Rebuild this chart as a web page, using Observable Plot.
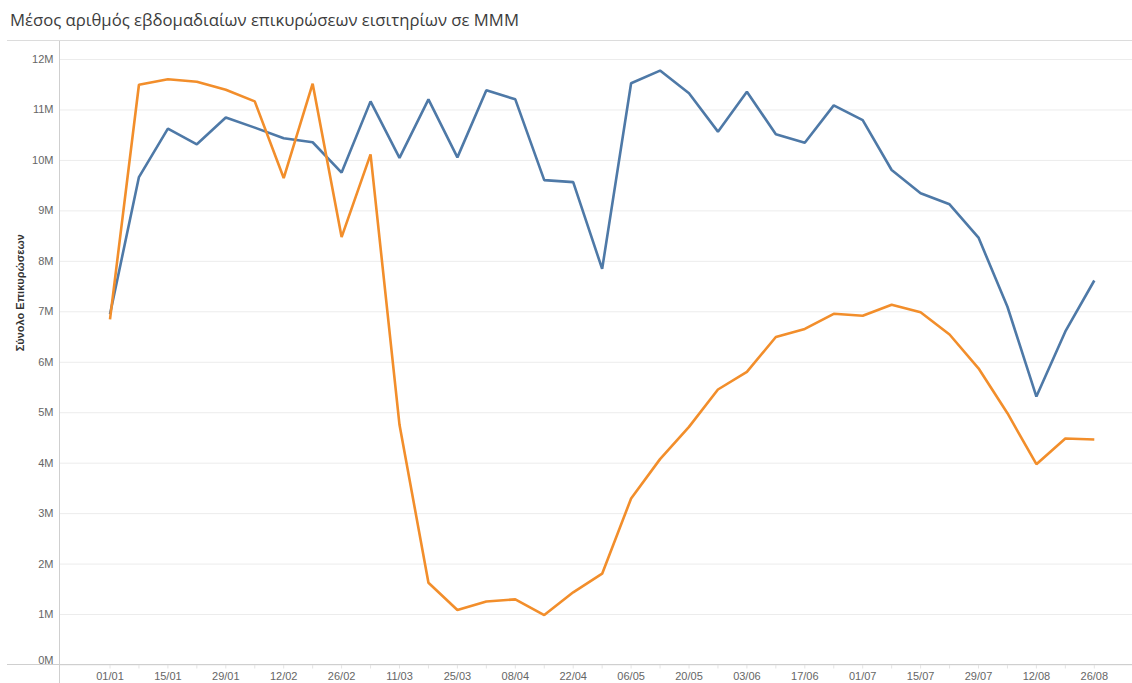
<!DOCTYPE html>
<html>
<head>
<meta charset="utf-8">
<script src="https://cdn.jsdelivr.net/npm/d3@7"></script>
<script src="https://cdn.jsdelivr.net/npm/@observablehq/plot@0.6"></script>
<style>
  html, body { margin: 0; padding: 0; background: #fff; }
  #wrap { position: relative; width: 1132px; height: 683px; overflow: hidden; }
  #title { position: absolute; left: 10px; top: 8px; font-family: "Open Sans", sans-serif; font-weight: 400; font-size: 16.7px; color: #3c3c3c; white-space: nowrap; }
  #titleline { position: absolute; left: 7px; right: 0; top: 40px; height: 1px; background: #dcdcdc; }
  #chart { position: absolute; left: 0; top: 41px; }
  #vline { position: absolute; left: 59px; top: 41px; width: 1px; height: 642px; background: #cfcfcf; }
  #hline { position: absolute; left: 7px; right: 0; top: 664px; height: 1px; background: #cfcfcf; }
</style>
</head>
<body>
<div id="wrap">
  <div id="title">Μέσος αριθμός εβδομαδιαίων επικυρώσεων εισιτηρίων σε ΜΜΜ</div>
  <div id="titleline"></div>
  <div id="chart"></div>
  <div id="vline"></div>
  <div id="hline"></div>
</div>
<script>
// Weekly dates (2020)
const weeks = [
  "2020-01-01","2020-01-08","2020-01-15","2020-01-22","2020-01-29",
  "2020-02-05","2020-02-12","2020-02-19","2020-02-26",
  "2020-03-04","2020-03-11","2020-03-18","2020-03-25",
  "2020-04-01","2020-04-08","2020-04-15","2020-04-22","2020-04-29",
  "2020-05-06","2020-05-13","2020-05-20","2020-05-27",
  "2020-06-03","2020-06-10","2020-06-17","2020-06-24",
  "2020-07-01","2020-07-08","2020-07-15","2020-07-22","2020-07-29",
  "2020-08-05","2020-08-12","2020-08-19","2020-08-26"
];
// Series values in millions
const seriesBlue = [6.95,9.67,10.63,10.32,10.85,10.65,10.44,10.36,9.76,11.17,10.05,11.21,10.06,11.39,11.21,9.61,9.57,7.85,11.53,11.78,11.33,10.57,11.36,10.52,10.35,11.09,10.80,9.81,9.35,9.13,8.47,7.10,5.32,6.61,7.62];
const seriesOrange = [6.85,11.50,11.61,11.56,11.40,11.17,9.65,11.52,8.48,10.12,4.76,1.63,1.09,1.26,1.30,0.99,1.44,1.81,3.30,4.08,4.72,5.46,5.81,6.50,6.66,6.96,6.92,7.14,6.99,6.55,5.88,4.99,3.98,4.49,4.47];
const seriesNames = ["Σειρά 1", "Σειρά 2"];
const seriesColors = ["#4e79a7", "#f28e2b"];
// Tick labels
const xTickLabels = ["01/01","15/01","29/01","12/02","26/02","11/03","25/03","08/04","22/04","06/05","20/05","03/06","17/06","01/07","15/07","29/07","12/08","26/08"];
const yTicks = [0,1,2,3,4,5,6,7,8,9,10,11,12];
const yTitle = "Σύνολο Επικυρώσεων";

const parse = d3.utcParse("%Y-%m-%d");
const dates = weeks.map(parse);
const data = [];
[seriesBlue, seriesOrange].forEach((vals, s) => {
  vals.forEach((v, i) => data.push({date: dates[i], value: v * 1e6, series: seriesNames[s]}));
});
const tickDates = dates.filter((d, i) => i % 2 === 0);
const fmt = d3.utcFormat("%d/%m");
const yFmt = d => d / 1e6 + "M";

const chart = Plot.plot({
  width: 1132,
  height: 642,
  marginLeft: 59,
  marginRight: 0,
  marginTop: 18,
  marginBottom: 18.5,
  style: {fontFamily: "'Liberation Sans Narrow', 'Arial Narrow', sans-serif", fontSize: "11px", color: "#666", background: "transparent"},
  x: {type: "utc", domain: [dates[0], dates[dates.length - 1]], insetLeft: 50.5, insetRight: 38.2},
  y: {domain: [0, 12e6]},
  color: {domain: seriesNames, range: seriesColors},
  marks: [
    Plot.gridY(yTicks.map(d => d * 1e6), {stroke: "#ececec", strokeOpacity: 1, strokeWidth: 1}),
    Plot.axisY(yTicks.filter(d => d > 0).map(d => d * 1e6), {tickSize: 0, tickPadding: 6, tickFormat: yFmt, label: null, fill: "#666", fontSize: 11}),
    Plot.axisY(yTicks.filter(d => d === 0), {tickSize: 0, tickPadding: 6, tickFormat: yFmt, label: null, fill: "#666", fontSize: 11, dy: -5}),
    Plot.axisX(dates, {tickSize: 4, text: null, stroke: "#e4e4e4", label: null}),
    Plot.axisX(tickDates, {tickSize: 0, tickPadding: 7, tickFormat: d => xTickLabels[tickDates.indexOf(d)] ?? fmt(d), label: null, fill: "#666", fontSize: 11}),
    Plot.text([yTitle], {frameAnchor: "left", text: d => d, rotate: -90, dx: -39, dy: -11, fill: "#333", fontSize: 11, fontWeight: "bold", fontFamily: "'Liberation Sans Narrow', 'Arial Narrow', sans-serif"}),
    Plot.line(data, {x: "date", y: "value", z: "series", stroke: "series", strokeWidth: 2.6, strokeLinejoin: "miter", strokeLinecap: "butt"})
  ]
});
document.getElementById("chart").appendChild(chart);
</script>
</body>
</html>
